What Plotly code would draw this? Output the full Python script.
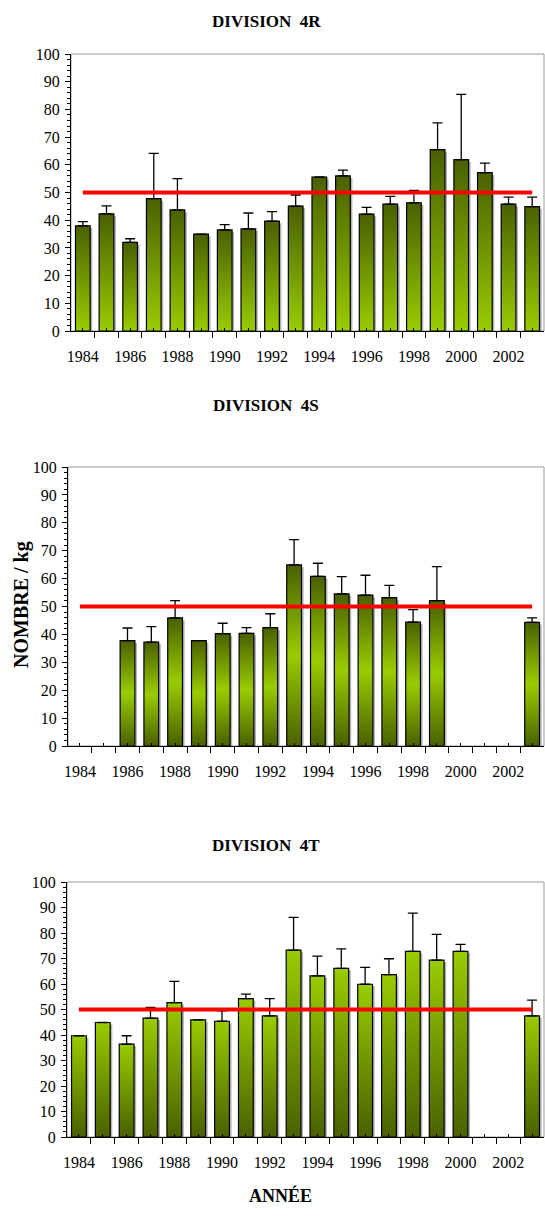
import plotly.graph_objects as go

# ---------------- data ----------------
years = list(range(1984, 2004))
tick_labels = [str(y) if y % 2 == 0 else "" for y in years]
norm_value = 50

# Division 4R
div_4r_vals = [38.0, 42.3, 32.0, 47.8, 43.7, 35.0, 36.5, 36.9, 39.7, 45.1,
               55.6, 56.0, 42.2, 45.8, 46.3, 65.5, 61.9, 57.2, 45.8, 44.9]
div_4r_err = [1.5, 2.9, 1.3, 16.3, 11.3, None, 1.9, 5.7, 3.4, 4.0,
              None, 2.1, 2.4, 2.8, 4.5, 9.6, 23.5, 3.4, 2.5, 3.4]

# Division 4S
div_4s_vals = [None, None, 37.8, 37.2, 45.9, 37.8, 40.3, 40.4, 42.4, 64.9,
               60.8, 54.5, 54.1, 53.2, 44.4, 52.1, None, None, None, 44.3]
div_4s_err = [None, None, 4.5, 5.6, 6.2, None, 3.7, 2.0, 5.0, 9.1,
              4.7, 6.2, 7.1, 4.4, 4.5, 12.2, None, None, None, 1.6]

# Division 4T
div_4t_vals = [39.7, 44.9, 36.4, 46.6, 52.7, 45.9, 45.4, 54.3, 47.5, 73.3,
               63.2, 66.1, 59.9, 63.7, 72.8, 69.4, 72.8, None, None, 47.5]
div_4t_err = [None, None, 3.3, 4.2, 8.3, None, 4.1, 1.7, 6.8, 12.8,
              7.7, 7.7, 6.6, 6.2, 15.0, 10.1, 2.7, None, None, 6.2]

titles = ["DIVISION  4R", "DIVISION  4S", "DIVISION  4T"]

# ---------------- style ----------------
W, H = 545, 1216
DARK = "#4a6000"
LIGHT = "#99cc00"
FONT = "Liberation Serif"
BAR_W = 0.62

gradients = [
    [[0, LIGHT], [1, DARK]],                 # 4R : dark top, light bottom
    [[0, DARK], [0.5, LIGHT], [1, DARK]],    # 4S : dark ends, light middle
    [[0, DARK], [1, LIGHT]],                 # 4T : light top, dark bottom
]

# plot areas in pixels: (left, right, top, bottom)
areas = [(71, 544, 54, 331), (68, 544, 467, 746), (67, 544, 882, 1137)]
title_y = [22, 406, 845]

panels = [(div_4r_vals, div_4r_err), (div_4s_vals, div_4s_err), (div_4t_vals, div_4t_err)]

fig = go.Figure()
hw = BAR_W / 2

for i, ((vals, errs), cs) in enumerate(zip(panels, gradients)):
    xa = "x" if i == 0 else f"x{i+1}"
    ya = "y" if i == 0 else f"y{i+1}"
    # shadows
    for yr, v in zip(years, vals):
        if v is None:
            continue
        fig.add_trace(go.Scatter(
            x=[yr + hw, yr + hw + 0.09, yr + hw + 0.09, yr + hw],
            y=[0, 0, v - 0.8, v - 0.8],
            fill="toself", fillcolor="#b4b4b4", mode="lines", line=dict(width=0),
            hoverinfo="skip", showlegend=False, xaxis=xa, yaxis=ya))
    # gradient bars
    for yr, v in zip(years, vals):
        if v is None:
            continue
        fig.add_trace(go.Scatter(
            x=[yr - hw, yr - hw, yr + hw, yr + hw, yr - hw],
            y=[0, v, v, 0, 0],
            fill="toself",
            fillgradient=dict(type="vertical", colorscale=cs, start=0, stop=v),
            mode="lines", line=dict(color="black", width=1.2),
            hoverinfo="skip", showlegend=False, xaxis=xa, yaxis=ya))
    # error bars (upper only)
    fig.add_trace(go.Scatter(
        x=years, y=vals, mode="markers",
        marker=dict(size=2, color="rgba(0,0,0,0)"),
        error_y=dict(type="data", symmetric=False, array=errs,
                     arrayminus=[0] * len(years), color="black",
                     thickness=1.3, width=5),
        showlegend=False, xaxis=xa, yaxis=ya))
    # reference line at 50
    fig.add_trace(go.Scatter(
        x=years, y=[norm_value] * len(years), mode="lines",
        line=dict(color="#ff0000", width=4),
        showlegend=False, xaxis=xa, yaxis=ya))

layout = dict(
    width=W, height=H, margin=dict(l=0, r=0, t=0, b=0, autoexpand=False),
    paper_bgcolor="white", plot_bgcolor="white", showlegend=False,
    font=dict(family=FONT, color="black"),
)

shapes = []
annotations = []
for i, (l, r, t, b) in enumerate(areas):
    sx = "" if i == 0 else str(i + 1)
    xdom = [l / W, r / W]
    ydom = [1 - b / H, 1 - t / H]
    layout[f"xaxis{sx}"] = dict(
        domain=xdom, anchor=f"y{sx}", range=[1983.5, 2003.5], automargin=False,
        tickmode="array", tickvals=years, ticktext=tick_labels,
        ticks="inside", ticklen=3, tickwidth=1, tickcolor="black",
        showline=True, linecolor="black", linewidth=1,
        showgrid=False, zeroline=False, ticklabelstandoff=11,
        tickfont=dict(family=FONT, size=16, color="black"),
        minor=dict(tickmode="array", tickvals=[1983.5 + k for k in range(21)],
                   ticks="outside", ticklen=6, tickwidth=1, tickcolor="black",
                   showgrid=False),
    )
    layout[f"yaxis{sx}"] = dict(
        domain=ydom, anchor=f"x{sx}", range=[0, 100], automargin=False,
        tickmode="linear", tick0=0, dtick=10,
        ticks="outside", ticklen=5, tickwidth=1, tickcolor="black",
        showline=True, linecolor="black", linewidth=1,
        showgrid=False, zeroline=False, ticklabelstandoff=2,
        tickfont=dict(family=FONT, size=16, color="black"),
        minor=dict(dtick=2, ticks="outside", ticklen=3, tickwidth=1,
                   tickcolor="black", showgrid=False),
    )
    shapes.append(dict(type="rect", xref=f"x{sx} domain", yref=f"y{sx} domain",
                       x0=0, x1=1, y0=0, y1=1, line=dict(color="#9a9a9a", width=1),
                       layer="below"))
    annotations.append(dict(text=f"<b>{titles[i]}</b>", xref="paper", yref="paper",
                            x=266 / W, y=1 - title_y[i] / H, showarrow=False,
                            xanchor="center", yanchor="middle",
                            font=dict(family=FONT, size=17, color="black")))

annotations.append(dict(text="<b>NOMBRE / kg</b>", xref="paper", yref="paper",
                        x=22 / W, y=1 - 605 / H, showarrow=False, textangle=-90,
                        xanchor="center", yanchor="middle",
                        font=dict(family=FONT, size=20, color="black")))
annotations.append(dict(text="<b>ANNÉE</b>", xref="paper", yref="paper",
                        x=280 / W, y=1 - 1195 / H, showarrow=False,
                        xanchor="center", yanchor="middle",
                        font=dict(family=FONT, size=18, color="black")))

layout["shapes"] = shapes
layout["annotations"] = annotations
fig.update_layout(**layout)

fig.write_html(
    "out.html",
    config={"displayModeBar": False},
    post_script="document.body.style.margin='0';document.body.style.overflow='hidden';",
)
